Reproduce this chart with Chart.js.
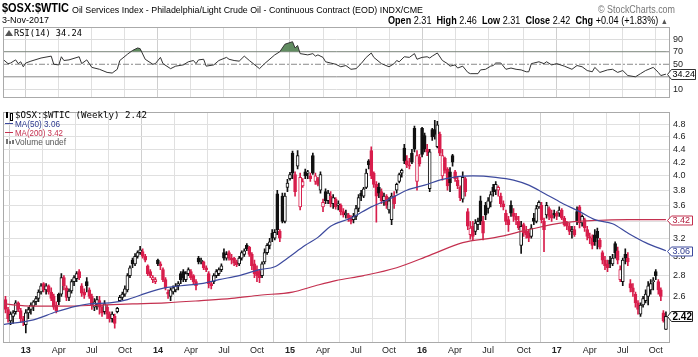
<!DOCTYPE html>
<html><head><meta charset="utf-8">
<script src="https://cdn.jsdelivr.net/npm/chart.js@4.4.1/dist/chart.umd.min.js"></script>
<style>
html,body{margin:0;padding:0;background:#fff;width:698px;height:357px;overflow:hidden;font-family:"Liberation Sans",Arial,sans-serif;}
#wrap{position:relative;width:698px;height:357px;}
canvas{position:absolute;left:0;}
#rsi{top:0;width:698px;height:106px;}
#main{top:104px;width:698px;height:253px;}
.t{position:absolute;white-space:nowrap;color:#000;line-height:1;transform-origin:0 0;}
.mono{font-family:"DejaVu Sans Mono",monospace;}
b{font-weight:bold;}
</style></head>
<body><div id="wrap">
<canvas id="rsi" width="698" height="106"></canvas>
<canvas id="main" width="698" height="253"></canvas>
<div class="t fit" data-w="67" style="left:2px;top:1px;font-size:13px;font-weight:bold;">$OSX:$WTIC</div>
<div class="t fit" data-w="351" style="left:72px;top:6px;font-size:9px;">Oil Services Index - Philadelphia/Light Crude Oil - Continuous Contract (EOD) INDX/CME</div>
<div class="t fit" data-w="77" style="left:598px;top:5px;font-size:10px;color:#777;">© StockCharts.com</div>
<div class="t fit" data-w="47" style="left:2px;top:16px;font-size:9px;">3-Nov-2017</div>
<div class="t fit" data-w="280" style="left:388px;top:16px;font-size:10px;"><b>Open</b> 2.31 &nbsp;<b>High</b> 2.46 &nbsp;<b>Low</b> 2.31 &nbsp;<b>Close</b> 2.42 &nbsp;<b>Chg</b> +0.04 (+1.83%) <span style="color:#555;font-size:8px">▲</span></div>
<div class="t fit mono" data-w="68" style="left:14px;top:29px;font-size:9px;">RSI(14) 34.24</div>
<div class="t fit mono" data-w="132" style="left:15px;top:111px;font-size:9px;">$OSX:$WTIC (Weekly) 2.42</div>
<div class="t" style="left:5px;top:123px;width:8px;height:1px;background:#3d4a9e;"></div>
<div class="t fit" data-w="45" style="left:15px;top:120px;font-size:9px;color:#2d3a8e;">MA(50) 3.06</div>
<div class="t" style="left:5px;top:132px;width:8px;height:1px;background:#c4304f;"></div>
<div class="t fit" data-w="48" style="left:15px;top:129px;font-size:9px;color:#c4304f;">MA(200) 3.42</div>
<div class="t fit" data-w="51" style="left:15px;top:138px;font-size:9px;color:#555;">Volume undef</div>
<div class="t" style="left:6px;top:139px;width:2px;height:5px;background:#777;"></div>
<div class="t" style="left:9px;top:141px;width:2px;height:3px;background:#777;"></div>
<div class="t" style="left:12px;top:140px;width:2px;height:4px;background:#777;"></div>
<div class="t" style="left:6px;top:112px;width:2px;height:6px;background:#000;"></div>
<div class="t" style="left:10px;top:113px;width:1px;height:6px;border:1px solid #000;background:#fff;"></div>
<div class="t" style="left:5px;top:30px;width:0;height:0;border-left:4px solid transparent;border-right:4px solid transparent;border-bottom:6px solid #555;"></div>
</div>
<script>
// ---------- DATA ----------
const opens = [2.57,2.48,2.38,2.42,2.46,2.54,2.47,2.40,2.35,2.45,
 2.48,2.51,2.55,2.58,2.64,2.72,2.66,2.70,2.64,2.60,
 2.52,2.62,2.62,2.78,2.68,2.59,2.65,2.74,2.77,2.84,
 2.70,2.64,2.74,2.66,2.60,2.50,2.53,2.56,2.50,2.46,
 2.50,2.44,2.40,2.42,2.46,2.56,2.59,2.62,2.66,2.80,
 2.96,2.92,3.00,3.04,3.05,3.00,2.90,2.84,2.76,2.74,
 2.96,2.92,2.86,2.76,2.64,2.60,2.64,2.66,2.70,2.82,
 2.84,2.76,2.82,2.84,2.80,2.74,2.98,2.94,2.94,2.88,
 2.82,2.72,2.74,2.80,2.82,2.86,3.04,2.98,3.04,2.98,
 2.98,2.94,2.92,2.98,3.02,3.12,3.10,3.02,2.92,2.86,
 2.84,2.80,2.94,3.04,3.12,3.26,3.20,3.75,3.28,3.72,
 3.40,3.84,3.96,4.34,4.02,4.14,3.58,3.86,4.06,4.04,
 4.00,4.30,3.92,3.96,3.80,3.58,3.78,3.66,3.72,3.62,
 3.68,3.60,3.60,3.52,3.48,3.48,3.44,3.42,3.46,3.56,
 3.76,3.72,3.84,4.22,4.38,4.04,3.88,3.84,3.78,3.66,
 3.72,3.54,3.42,3.72,3.80,3.92,4.04,4.42,4.22,4.16,
 4.34,4.74,3.92,4.28,4.74,4.62,4.40,3.82,4.72,4.72,
 4.44,4.64,4.00,4.26,4.10,4.06,4.30,4.06,3.94,3.84,
 3.68,3.96,3.52,3.24,3.34,3.28,3.36,3.66,3.40,3.60,
 3.56,3.64,3.84,3.80,3.80,3.72,3.62,3.50,3.42,3.60,
 3.50,3.46,3.40,3.12,3.36,3.28,3.26,3.22,3.44,3.40,
 3.58,3.60,3.40,3.48,3.56,3.48,3.50,3.50,3.50,3.54,
 3.44,3.38,3.34,3.28,3.30,3.52,3.58,3.38,3.42,3.30,
 3.22,3.20,3.24,3.28,3.18,3.04,2.96,2.92,2.96,2.92,
 3.14,3.06,2.76,2.74,3.02,2.98,2.72,2.68,2.62,2.54,
 2.44,2.52,2.56,2.60,2.66,2.74,2.84,2.74,2.66,2.45,
 2.31];
const highs = [2.60,2.50,2.46,2.47,2.56,2.55,2.49,2.42,2.48,2.50,
 2.54,2.56,2.60,2.66,2.72,2.73,2.72,2.71,2.68,2.62,
 2.55,2.63,2.82,2.80,2.70,2.67,2.76,2.80,2.84,2.86,
 2.72,2.67,2.78,2.68,2.62,2.58,2.60,2.60,2.52,2.56,
 2.52,2.46,2.46,2.44,2.50,2.61,2.64,2.70,2.82,2.90,
 2.98,3.03,3.06,3.11,3.08,3.02,2.91,2.86,2.80,2.78,
 2.97,2.94,2.88,2.78,2.66,2.68,2.70,2.72,2.74,2.84,
 2.86,2.84,2.88,2.86,2.81,2.76,3.00,2.98,2.95,2.90,
 2.84,2.74,2.82,2.86,2.88,2.92,3.08,3.05,3.06,3.02,
 2.99,2.96,3.00,3.06,3.08,3.14,3.11,3.04,2.96,2.90,
 2.86,2.94,3.08,3.14,3.20,3.30,3.30,3.80,3.30,3.76,
 3.76,3.95,4.05,4.37,4.06,4.38,4.04,3.96,4.10,4.08,
 4.04,4.34,4.04,3.98,4.06,3.68,3.82,3.80,3.78,3.74,
 3.70,3.66,3.62,3.56,3.54,3.50,3.47,3.50,3.60,3.74,
 3.80,3.84,4.10,4.24,4.44,4.06,3.92,3.90,3.82,3.76,
 3.74,3.70,3.76,3.78,3.90,4.04,4.10,4.48,4.30,4.26,
 4.40,4.78,4.38,4.32,4.76,4.66,4.48,4.40,4.74,4.88,
 4.86,4.68,4.40,4.28,4.12,4.12,4.32,4.08,3.98,3.86,
 4.06,3.98,3.56,3.40,3.40,3.42,3.44,3.72,3.46,3.64,
 3.70,3.78,3.88,3.92,3.86,3.76,3.66,3.54,3.46,3.66,
 3.56,3.50,3.46,3.40,3.38,3.34,3.30,3.36,3.50,3.60,
 3.66,3.64,3.44,3.64,3.58,3.54,3.54,3.52,3.58,3.56,
 3.46,3.40,3.38,3.34,3.34,3.58,3.60,3.48,3.44,3.34,
 3.26,3.24,3.30,3.32,3.20,3.06,3.00,2.96,3.00,3.02,
 3.16,3.10,2.90,2.98,3.08,3.04,2.76,2.72,2.64,2.56,
 2.54,2.60,2.66,2.74,2.76,2.78,2.86,2.76,2.68,2.47,
 2.46];
const lows = [2.45,2.37,2.35,2.36,2.44,2.46,2.37,2.34,2.28,2.40,
 2.44,2.47,2.52,2.55,2.62,2.64,2.62,2.62,2.56,2.48,
 2.45,2.52,2.60,2.66,2.56,2.56,2.63,2.70,2.74,2.76,
 2.60,2.58,2.64,2.58,2.48,2.47,2.48,2.44,2.42,2.44,
 2.40,2.37,2.37,2.32,2.45,2.55,2.57,2.60,2.64,2.78,
 2.88,2.90,2.98,3.02,2.98,2.94,2.80,2.78,2.73,2.72,
 2.90,2.86,2.74,2.66,2.58,2.56,2.62,2.64,2.66,2.72,
 2.74,2.74,2.80,2.76,2.72,2.66,2.92,2.92,2.86,2.84,
 2.68,2.67,2.72,2.78,2.80,2.84,2.96,2.96,2.96,2.92,
 2.90,2.89,2.90,2.96,3.00,3.06,3.00,2.86,2.78,2.74,
 2.73,2.78,2.92,3.02,3.08,3.16,3.18,3.24,3.16,3.38,
 3.38,3.78,3.94,3.96,3.72,4.10,3.54,3.84,3.96,3.96,
 3.92,4.02,3.88,3.86,3.76,3.52,3.62,3.62,3.58,3.56,
 3.55,3.54,3.48,3.45,3.44,3.40,3.37,3.38,3.42,3.52,
 3.66,3.70,3.82,4.10,3.96,3.84,3.39,3.70,3.62,3.60,
 3.56,3.50,3.36,3.56,3.76,3.90,3.98,4.18,4.12,4.10,
 4.18,4.36,3.80,4.14,4.28,4.36,4.30,3.78,4.54,4.56,
 4.42,4.30,3.94,4.04,3.80,3.78,4.14,3.92,3.82,3.66,
 3.64,3.72,3.30,3.19,3.18,3.24,3.30,3.36,3.18,3.42,
 3.50,3.58,3.72,3.74,3.72,3.58,3.54,3.36,3.28,3.46,
 3.40,3.36,3.30,3.03,3.22,3.20,3.16,3.20,3.36,3.38,
 3.56,3.38,3.05,3.44,3.42,3.40,3.44,3.42,3.46,3.42,
 3.34,3.30,3.24,3.20,3.22,3.36,3.32,3.34,3.28,3.18,
 3.14,3.08,3.12,3.08,3.08,2.92,2.86,2.84,2.88,2.90,
 2.98,2.92,2.74,2.70,2.92,2.90,2.64,2.60,2.50,2.44,
 2.42,2.50,2.54,2.52,2.62,2.66,2.76,2.62,2.56,2.37,
 2.31];
const closes = [2.48,2.40,2.44,2.45,2.54,2.48,2.40,2.37,2.45,2.48,
 2.52,2.55,2.58,2.64,2.70,2.66,2.70,2.64,2.58,2.50,
 2.47,2.55,2.78,2.70,2.59,2.65,2.74,2.78,2.82,2.78,
 2.63,2.61,2.70,2.60,2.52,2.55,2.57,2.50,2.45,2.53,
 2.44,2.40,2.44,2.36,2.49,2.59,2.62,2.67,2.80,2.88,
 2.92,3.00,3.04,3.07,3.00,2.96,2.82,2.80,2.78,2.76,
 2.92,2.90,2.76,2.68,2.62,2.66,2.68,2.70,2.72,2.76,
 2.78,2.82,2.86,2.78,2.74,2.70,2.94,2.96,2.88,2.86,
 2.72,2.70,2.80,2.84,2.86,2.90,2.98,3.02,2.98,2.96,
 2.93,2.91,2.98,3.04,3.06,3.08,3.02,2.90,2.82,2.80,
 2.78,2.92,3.04,3.12,3.16,3.20,3.27,3.30,3.20,3.40,
 3.72,3.90,4.02,4.04,3.78,4.30,3.98,3.92,4.00,4.06,
 3.96,4.04,4.00,3.88,4.02,3.64,3.66,3.76,3.62,3.70,
 3.58,3.62,3.52,3.48,3.50,3.44,3.40,3.46,3.56,3.70,
 3.72,3.82,4.04,4.16,4.00,3.88,3.72,3.76,3.66,3.72,
 3.60,3.66,3.72,3.62,3.88,4.02,4.08,4.22,4.16,4.14,
 4.20,4.40,4.30,4.18,4.32,4.40,4.36,4.36,4.60,4.64,
 4.80,4.34,4.30,4.08,3.86,3.90,4.20,3.96,3.86,3.70,
 3.98,3.78,3.34,3.32,3.22,3.38,3.40,3.40,3.26,3.48,
 3.66,3.74,3.78,3.88,3.84,3.62,3.58,3.40,3.36,3.50,
 3.46,3.42,3.32,3.34,3.26,3.24,3.20,3.32,3.40,3.56,
 3.64,3.42,3.30,3.60,3.46,3.44,3.48,3.46,3.54,3.44,
 3.36,3.34,3.28,3.30,3.24,3.40,3.38,3.46,3.32,3.22,
 3.20,3.12,3.16,3.20,3.10,2.96,2.90,2.88,2.92,2.98,
 3.04,2.96,2.86,2.96,2.98,2.94,2.68,2.64,2.54,2.48,
 2.52,2.58,2.62,2.70,2.72,2.74,2.80,2.66,2.60,2.38,
 2.42];

const ma50Weeks  = [-1,11,20,28,33,41,48,53,61,69,77,84,92,100,106,111,118,123,128,136,144,151,158,165,172,178,184,193,200,206,212,219,226,232,239,245,252,260];
const ma50Values = [2.35,2.39,2.46,2.51,2.53,2.54,2.57,2.61,2.67,2.70,2.72,2.76,2.80,2.86,2.89,2.98,3.12,3.21,3.34,3.44,3.58,3.68,3.80,3.87,3.95,3.99,4.00,3.98,3.94,3.87,3.76,3.63,3.52,3.42,3.37,3.26,3.15,3.06];
const ma200Weeks  = [-1,11,24,37,50,63,77,89,100,113,122,130,141,154,167,180,193,206,219,232,245,260];
const ma200Values = [2.53,2.51,2.51,2.52,2.53,2.54,2.56,2.58,2.61,2.64,2.70,2.75,2.80,2.88,3.01,3.15,3.21,3.30,3.38,3.41,3.42,3.42];

const rsiWeeks  = [-1,1,2,4,5,6,7,8,10,14,18,19,21,22,23,25,29,30,32,34,37,40,42,44,45,48,50,52,53,55,58,59,61,62,65,67,70,72,74,75,76,78,79,82,84,87,88,90,92,94,96,100,102,106,108,110,113,114,115,116,119,121,122,123,125,126,128,130,132,134,136,138,140,142,144,145,148,151,153,154,155,157,159,161,162,164,166,167,168,170,172,174,175,177,178,180,182,183,186,187,189,191,192,193,195,197,199,201,203,205,206,207,208,210,212,213,215,217,220,223,225,227,229,231,232,234,237,239,241,243,245,248,250,252,255,257,258,260];
const rsiValues = [58,51,52,57,51,54,46,52,55,60,63,50,49,62,56,57,62,51,57,45,42,37,36,42,56,66,72,76,75,58,50,51,61,51,43,47,49,54,56,51,57,58,47,49,56,61,58,56,55,63,56,43,51,65,70,82,86,76,80,67,65,67,63,65,61,54,52,50,46,48,42,43,51,61,68,61,51,46,51,56,54,62,61,67,58,61,62,60,63,68,56,51,47,49,44,47,37,35,35,41,42,47,48,52,52,42,44,42,41,38,38,51,52,54,51,54,49,51,47,42,48,46,40,38,45,37,41,42,37,40,32,30,35,40,45,37,32,34.24];

const xTickWeeks  = [8,21,34,47,60,73,86,99,112,125,138,151,164,177,190,204,217,230,243,256];
const xTickLabels = ['13','Apr','Jul','Oct','14','Apr','Jul','Oct','15','Apr','Jul','Oct','16','Apr','Jul','Oct','17','Apr','Jul','Oct'];
const priceTicks = [2.4,2.6,2.8,3.0,3.2,3.4,3.6,3.8,4.0,4.2,4.4,4.6,4.8];
const rsiTicks = [10,30,50,70,90];
const rsiLevels = [70,50,30];

// ---------- STYLE ----------
const RED = '#d81e4c', BLK = '#111111', BLUE = '#3d4a9e', MARED = '#c4304f';
const X_MIN = -0.98, X_MAX = 261.6;
const fitEls = document.querySelectorAll('.fit');
fitEls.forEach(el => { const w = el.getBoundingClientRect().width; const t = +el.dataset.w; if (w > 0) el.style.transform = 'scaleX(' + (t / w) + ')'; });

const N = closes.length;
const candleColor = closes.map((c, i) => (i === 0 ? c >= opens[i] : c >= closes[i - 1]) ? BLK : RED);
const bodyFill = closes.map((c, i) => c < opens[i] ? candleColor[i] : '#ffffff');
const idx = closes.map((c, i) => i);
const wickData = idx.map(i => ({x: i, y: [lows[i], highs[i]]}));
const bodyData = idx.map(i => ({x: i, y: [opens[i], closes[i]]}));

const isYear = v => /^\d\d$/.test(xTickLabels[xTickWeeks.indexOf(v)] || '');
const xScaleBase = {
  type: 'linear', min: X_MIN, max: X_MAX, offset: false,
  afterBuildTicks: s => { s.ticks = xTickWeeks.map(v => ({value: v})); },
  grid: { color: ctx => (ctx.tick && isYear(ctx.tick.value)) ? '#cfcfcf' : '#e0e0e0', drawTicks: false, lineWidth: 1 },
  border: { display: false }
};

const frame = { id: 'frame', afterDatasetsDraw(chart) {
  const {ctx, chartArea: a} = chart; ctx.save(); ctx.strokeStyle = '#aaaaaa'; ctx.lineWidth = 1;
  ctx.strokeRect(Math.round(a.left) + 0.5, Math.round(a.top) + 0.5, Math.round(a.right - a.left) - 1, Math.round(a.bottom - a.top) - 1);
  ctx.restore(); } };

function tagPlugin(tags) { return { id: 'tags', afterDraw(chart) {
  const y = chart.scales.y, ctx = chart.ctx;
  tags.forEach(t => {
    const py = Math.round(y.getPixelForValue(t.value)) + 0.5;
    const x0 = Math.round(chart.chartArea.right) - 2.5, x1 = x0 + t.w, h = t.h / 2;
    ctx.save(); ctx.beginPath(); ctx.moveTo(x0, py); ctx.lineTo(x0 + 4, py - h); ctx.lineTo(x1, py - h); ctx.lineTo(x1, py + h); ctx.lineTo(x0 + 4, py + h); ctx.closePath();
    ctx.fillStyle = '#fff'; ctx.fill(); ctx.strokeStyle = t.color; ctx.lineWidth = 1; ctx.stroke();
    ctx.fillStyle = t.text; ctx.font = t.font; ctx.textBaseline = 'middle'; ctx.textAlign = 'left';
    ctx.fillText(t.label, x0 + 5, py + 0.5); ctx.restore();
  }); } }; }

const lastClose = closes[N - 1], lastMA50 = ma50Values[ma50Values.length - 1], lastMA200 = ma200Values[ma200Values.length - 1], lastRSI = rsiValues[rsiValues.length - 1];

// ---------- MAIN CHART ----------
new Chart(document.getElementById('main'), {
  type: 'bar',
  data: { datasets: [
    { type: 'line', data: ma50Weeks.map((w, k) => ({x: w, y: ma50Values[k]})), borderColor: BLUE, borderWidth: 1.2, pointRadius: 0, cubicInterpolationMode: 'monotone', fill: false, order: 0 },
    { type: 'line', data: ma200Weeks.map((w, k) => ({x: w, y: ma200Values[k]})), borderColor: MARED, borderWidth: 1.2, pointRadius: 0, cubicInterpolationMode: 'monotone', fill: false, order: 0 },
    { type: 'bar', data: bodyData, backgroundColor: bodyFill, borderColor: candleColor, borderWidth: 1, borderSkipped: false, barThickness: 3, minBarLength: 1, grouped: false, order: 1 },
    { type: 'bar', data: wickData, backgroundColor: candleColor, borderWidth: 0, barThickness: 1, grouped: false, order: 2 }
  ]},
  options: {
    responsive: false, animation: false, devicePixelRatio: 1,
    layout: { padding: { left: 3, right: 0, top: 3, bottom: 1 } },
    plugins: { legend: { display: false }, tooltip: { enabled: false } },
    scales: {
      x: Object.assign({}, xScaleBase, {
        ticks: { autoSkip: false, maxRotation: 0, padding: 2, color: '#222',
          font: ctx => ({ family: 'Liberation Sans', size: 9, weight: (ctx.tick && isYear(ctx.tick.value)) ? 'bold' : 'normal' }),
          callback: v => xTickLabels[xTickWeeks.indexOf(v)] },
        afterFit: s => { s.height = 13; }
      }),
      y: { type: 'logarithmic', position: 'right', min: 2.24, max: 5.02,
        afterBuildTicks: s => { s.ticks = priceTicks.map(v => ({value: v})); },
        afterFit: s => { s.width = 28; },
        ticks: { padding: 3, color: '#222', font: { family: 'Liberation Sans', size: 9 }, callback: v => Number(v).toFixed(1) },
        grid: { color: '#e0e0e0', drawTicks: false }, border: { display: false } }
    }
  },
  plugins: [frame, tagPlugin([
    { value: lastMA200, label: lastMA200.toFixed(2), color: MARED, text: '#b02040', w: 25, h: 9, font: '9px "Liberation Sans"' },
    { value: lastMA50, label: lastMA50.toFixed(2), color: BLUE, text: '#2d3a8e', w: 25, h: 9, font: '9px "Liberation Sans"' },
    { value: lastClose, label: lastClose.toFixed(2), color: '#222', text: '#000', w: 25, h: 10, font: 'bold 10px "Liberation Sans"' }
  ])]
});

// ---------- RSI CHART ----------
const spanData = lv => [{x: X_MIN, y: lv}, {x: X_MAX, y: lv}];
new Chart(document.getElementById('rsi'), {
  type: 'line',
  data: { datasets: [
    { data: rsiWeeks.map((w, k) => ({x: w, y: rsiValues[k]})), borderColor: '#333', borderWidth: 1, pointRadius: 0, tension: 0,
      fill: { target: { value: 70 }, above: 'rgba(80,128,80,0.9)', below: 'rgba(0,0,0,0)' }, order: 0 },
    { data: spanData(rsiLevels[0]), borderColor: '#8a8a8a', borderWidth: 1, pointRadius: 0, fill: false, order: 1 },
    { data: spanData(rsiLevels[1]), borderColor: '#8a8a8a', borderWidth: 1, borderDash: [6, 2, 2, 2], pointRadius: 0, fill: false, order: 1 },
    { data: spanData(rsiLevels[2]), borderColor: '#8a8a8a', borderWidth: 1, pointRadius: 0, fill: false, order: 1 }
  ]},
  options: {
    responsive: false, animation: false, devicePixelRatio: 1,
    layout: { padding: { left: 3, right: 0, top: 27, bottom: 2 } },
    plugins: { legend: { display: false }, tooltip: { enabled: false } },
    scales: {
      x: Object.assign({}, xScaleBase, { ticks: { display: false }, afterFit: s => { s.height = 0; } }),
      y: { type: 'linear', position: 'right', min: -3.2, max: 109.5,
        afterBuildTicks: s => { s.ticks = rsiTicks.map(v => ({value: v})); },
        afterFit: s => { s.width = 28; },
        ticks: { padding: 3, color: '#222', font: { family: 'Liberation Sans', size: 9 } },
        grid: { color: ctx => (ctx.tick && (ctx.tick.value === 10 || ctx.tick.value === 90)) ? '#dcdcdc' : 'rgba(0,0,0,0)', drawTicks: false },
        border: { display: false } }
    }
  },
  plugins: [frame, tagPlugin([
    { value: lastRSI, label: lastRSI.toFixed(2), color: '#333', text: '#000', w: 28, h: 10, font: '9px "Liberation Sans"' }
  ])]
});
</script>
</body></html>
